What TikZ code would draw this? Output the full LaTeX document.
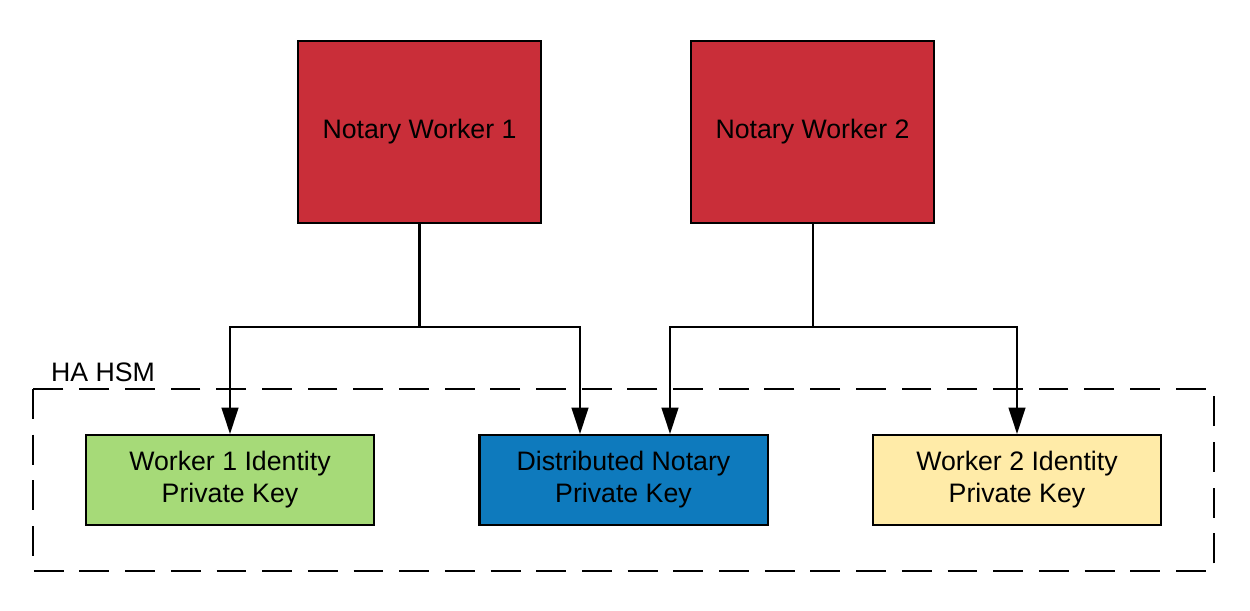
\documentclass[tikz,border=0pt]{standalone}
\usepackage{fontspec}
\setmainfont{Liberation Sans}
\usepackage{xcolor}
\usetikzlibrary{arrows.meta}
\definecolor{workerred}{HTML}{C92E39}
\definecolor{keygreen}{HTML}{A6DA78}
\definecolor{keyblue}{HTML}{0E7ABD}
\definecolor{keyyellow}{HTML}{FFEBA8}
\begin{document}
\begin{tikzpicture}[
    line width=1.15pt,
    worker/.style={rectangle,draw,fill=workerred,minimum width=4.86cm,minimum height=3.64cm,inner sep=0pt},
    keybox/.style={rectangle,draw,minimum width=5.76cm,minimum height=1.8cm,align=center,inner sep=0pt},
    arr/.style={-{Triangle[length=15pt,width=9.5pt]}},
    every node/.style={font=\fontsize{15.2}{18.2}\selectfont}
]
    \useasboundingbox (0,0) rectangle (25,-12.2);
    \node[worker] (nw1) at (8.39,-2.64) {Notary Worker 1};
    \node[worker] (nw2) at (16.25,-2.64) {Notary Worker 2};
    \node[keybox,fill=keygreen] (wk1) at (4.6,-9.6) {Worker 1 Identity\\Private Key};
    \node[keybox,fill=keyblue] (dist) at (12.47,-9.6) {Distributed Notary\\Private Key};
    \node[keybox,fill=keyyellow] (wk2) at (20.34,-9.6) {Worker 2 Identity\\Private Key};
    % HSM boundary
    \draw[line width=1.3pt,dash pattern=on 17pt off 9pt] (0.66,-7.78) rectangle (24.28,-11.42);
    \node[anchor=base west,inner sep=0pt] (hsm) at (1.0,-7.62) {HA HSM};
    % worker links
    \coordinate (j1) at (8.39,-6.54);
    \coordinate (j2) at (16.25,-6.54);
    \draw (nw1.south) -- (j1);
    \draw[arr] (j1) -| (wk1.north);
    \draw[arr] (j1) -| ([xshift=-0.87cm]dist.north);
    \draw (nw2.south) -- (j2);
    \draw[arr] (j2) -| ([xshift=0.93cm]dist.north);
    \draw[arr] (j2) -| (wk2.north);
\end{tikzpicture}
\end{document}
